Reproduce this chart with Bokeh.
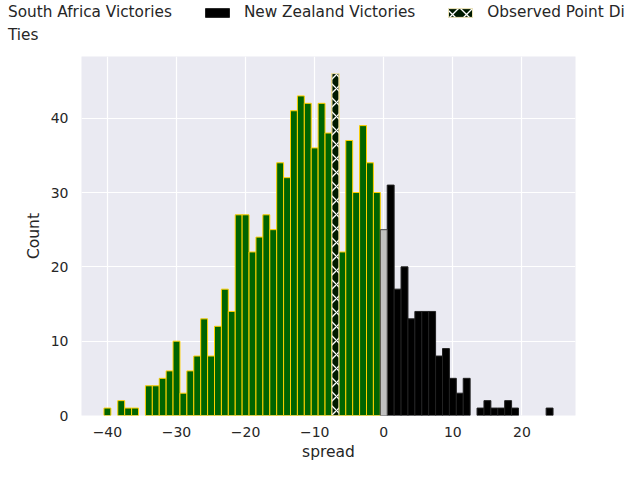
from bokeh.plotting import figure
from bokeh.layouts import column, row
from bokeh.models import Range1d, FixedTicker, Legend, LegendItem, ColumnDataSource
from bokeh.embed import file_html
from bokeh.resources import INLINE

# ---- data (bin centre -> count) ----
spread = list(range(-40, 25))
counts = [1, 0, 2, 1, 1, 0, 4, 4, 5, 6,
          10, 3, 6, 8, 13, 8, 12, 17, 14, 27,
          27, 22, 24, 27, 25, 34, 32, 41, 43, 42,
          36, 42, 38, 46, 22, 37, 30, 39, 34, 30,
          25, 31, 17, 20, 13, 14, 14, 14, 8, 9,
          5, 3, 5, 0, 1, 2, 1, 1, 2, 1,
          0, 0, 0, 0, 1]
observed_spread = -7
x_ticks = [-40, -30, -20, -10, 0, 10, 20]
y_ticks = [0, 10, 20, 30, 40]
series_names = ["South Africa Victories", "New Zealand Victories",
                "Observed Point Difference", "Ties"]


def subset(pred):
    xs = [s for s, c in zip(spread, counts) if pred(s) and c > 0]
    cs = [c for s, c in zip(spread, counts) if pred(s) and c > 0]
    return ColumnDataSource(dict(left=[s - 0.5 for s in xs], right=[s + 0.5 for s in xs],
                                 top=cs, bottom=[0] * len(cs)))


TEXT = "#262626"
FONT = "DejaVu Sans"
STY_SA = dict(fill_color="#006400", line_color="#FFD000", line_width=1)
STY_NZ = dict(fill_color="black", line_color="#222222", line_width=1)
STY_TIE = dict(fill_color="#c0c0c0", line_color="#444444", line_width=1)
STY_OBS = dict(fill_color="#001a00", line_color="#eee4b8", line_width=1,
               hatch_pattern="diagonal_cross", hatch_color="white",
               hatch_scale=14, hatch_weight=1.3)

# ---------------- main histogram ----------------
p = figure(width=624, height=418, output_backend="svg", toolbar_location=None,
           x_range=Range1d(-43.75, 27.75), y_range=Range1d(0, 48.3),
           min_border_left=81, min_border_right=49, min_border_top=10, min_border_bottom=49)
p.background_fill_color = "#EAEAF2"
p.border_fill_color = "white"
p.outline_line_color = None

p.quad(left="left", right="right", top="top", bottom="bottom",
       source=subset(lambda s: s < 0), **STY_SA)
p.quad(left="left", right="right", top="top", bottom="bottom",
       source=subset(lambda s: s > 0), **STY_NZ)
p.quad(left="left", right="right", top="top", bottom="bottom",
       source=subset(lambda s: s == 0), **STY_TIE)
p.quad(left="left", right="right", top="top", bottom="bottom",
       source=subset(lambda s: s == observed_spread), **STY_OBS)

for g in (p.xgrid, p.ygrid):
    g.grid_line_color = "white"
    g.grid_line_width = 1.2

p.xaxis.ticker = FixedTicker(ticks=x_ticks)
p.yaxis.ticker = FixedTicker(ticks=y_ticks)
p.xaxis.major_label_overrides = {t: str(t).replace("-", "\u2212") for t in x_ticks}
p.xaxis.axis_label = "spread"
p.yaxis.axis_label = "Count"
for ax in (p.xaxis, p.yaxis):
    ax.axis_line_color = None
    ax.major_tick_line_color = None
    ax.minor_tick_line_color = None
    ax.major_tick_out = 0
    ax.major_tick_in = 0
    ax.major_label_text_font = FONT
    ax.major_label_text_font_size = "14px"
    ax.major_label_text_color = TEXT
    ax.axis_label_text_font = FONT
    ax.axis_label_text_font_size = "15.5px"
    ax.axis_label_text_font_style = "normal"
    ax.axis_label_text_color = TEXT
p.xaxis.major_label_standoff = 11
p.xaxis.axis_label_standoff = 3
p.yaxis.major_label_standoff = 13
p.yaxis.axis_label_standoff = 5

# ---------------- legend strip above the plot ----------------
lf = figure(width=624, height=46, output_backend="svg", toolbar_location=None,
            x_range=Range1d(0, 624), y_range=Range1d(0, 46),
            x_axis_type=None, y_axis_type=None, min_border=0)
lf.outline_line_color = None
lf.background_fill_color = "white"
lf.border_fill_color = "white"

# legend proxies, kept outside the visible range of the strip
proxy = dict(left=[-100], right=[-99], top=[1], bottom=[0])
d_sa = lf.quad(**proxy, **STY_SA)
d_nz = lf.quad(**proxy, **STY_NZ)
d_obs = lf.quad(**proxy, **STY_OBS)
d_tie = lf.quad(**proxy, **STY_TIE)


def make_legend(items, loc):
    return Legend(items=items, location=loc, orientation="horizontal",
                  glyph_width=30, glyph_height=11, label_standoff=12, spacing=30,
                  padding=0, margin=0, label_height=20,
                  label_text_font=FONT, label_text_font_size="15.3px",
                  label_text_color=TEXT, background_fill_alpha=0, border_line_alpha=0)


leg_row = make_legend([LegendItem(label=series_names[0], renderers=[d_sa]),
                       LegendItem(label=series_names[1], renderers=[d_nz]),
                       LegendItem(label=series_names[2], renderers=[d_obs])], (-34, 24))
leg_ties = make_legend([LegendItem(label=series_names[3], renderers=[d_tie])], (-34, 1))
lf.add_layout(leg_row)
lf.add_layout(leg_ties)

layout = column(row(lf), p, spacing=0)
open("out.html", "w").write(file_html(layout, INLINE))
